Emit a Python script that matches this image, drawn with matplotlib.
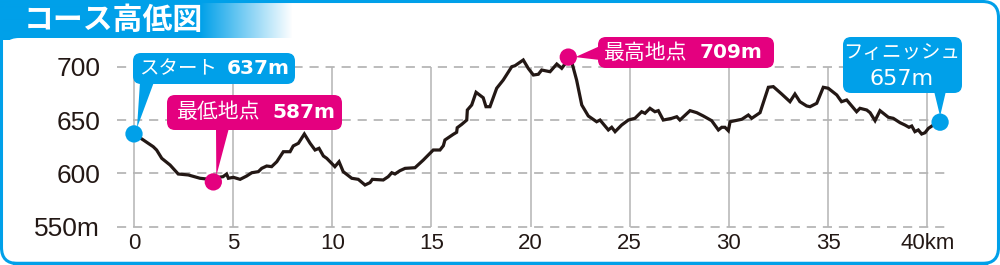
import matplotlib
matplotlib.use("Agg")
import matplotlib.pyplot as plt
import numpy as np
from matplotlib.patches import FancyBboxPatch, Polygon

# ---------------- data ----------------
km = [0.00, 0.47, 0.97, 1.14, 1.40, 1.82, 2.23, 2.74, 3.33, 3.83, 4.25, 4.49, 4.67, 4.76,
      5.01, 5.35, 5.68, 5.94, 6.27, 6.44, 6.69, 6.94, 7.20, 7.53, 7.87, 8.03, 8.29, 8.59,
      8.88, 9.13, 9.33, 9.55, 9.72, 9.97, 10.13, 10.34, 10.55, 10.98, 11.31, 11.65, 11.90,
      12.02, 12.57, 12.82, 13.00, 13.16, 13.41, 13.67, 14.17, 14.59, 15.09, 15.43, 15.60,
      15.68, 16.10, 16.27, 16.30, 16.53, 16.78, 16.81, 17.03, 17.25, 17.61, 17.75, 17.95,
      18.29, 18.62, 19.05, 19.21, 19.63, 19.88, 20.14, 20.39, 20.56, 20.98, 21.32, 21.57,
      21.82, 22.07, 22.32, 22.58, 22.91, 23.33, 23.50, 23.92, 24.09, 24.26, 24.59, 24.93,
      25.26, 25.60, 25.77, 26.02, 26.27, 26.44, 26.69, 27.12, 27.37, 27.53, 28.04, 28.38,
      28.71, 29.13, 29.47, 29.64, 29.80, 29.97, 30.06, 30.65, 30.98, 31.15, 31.57, 31.99,
      32.24, 32.66, 33.08, 33.33, 33.58, 33.92, 34.09, 34.43, 34.76, 35.01, 35.44, 35.68,
      35.94, 36.44, 36.61, 36.95, 37.12, 37.37, 37.62, 38.04, 38.29, 38.63, 38.88, 39.08,
      39.22, 39.38, 39.55, 39.72, 39.89, 40.06, 40.31, 40.65]
elev = [637.0, 631.3, 625.0, 621.9, 614.1, 607.8, 599.4, 598.5, 595.4, 594.4, 596.3, 596.9,
        599.4, 595.4, 596.3, 594.4, 597.5, 600.6, 601.6, 604.7, 606.9, 606.3, 610.9, 620.3,
        620.3, 625.7, 628.2, 636.9, 628.2, 621.9, 623.5, 616.3, 614.1, 609.4, 606.3, 610.9,
        601.6, 595.4, 594.4, 589.1, 591.3, 594.4, 593.8, 596.9, 600.6, 599.4, 602.5, 604.7,
        605.3, 612.5, 621.9, 621.9, 625.9, 631.3, 636.6, 638.5, 642.8, 646.0, 650.0, 659.4,
        664.1, 676.0, 670.9, 662.5, 662.5, 679.8, 687.5, 700.0, 700.9, 706.3, 698.5, 692.2,
        692.9, 696.9, 695.3, 702.5, 698.5, 704.7, 704.7, 687.5, 664.1, 653.8, 648.4, 650.0,
        640.7, 643.2, 639.1, 645.3, 650.0, 651.6, 657.8, 656.3, 661.0, 657.8, 658.8, 650.0,
        651.6, 653.1, 650.0, 658.8, 656.9, 653.8, 649.4, 640.7, 643.2, 643.2, 640.0, 648.4,
        650.7, 654.7, 651.6, 656.9, 680.7, 681.3, 674.4, 667.2, 674.4, 667.2, 663.2, 662.5,
        665.7, 680.7, 679.8, 673.5, 667.2, 668.8, 657.8, 661.0, 659.4, 656.9, 649.4, 658.8,
        652.6, 651.6, 647.5, 645.3, 643.2, 644.4, 639.1, 640.7, 636.9, 638.1, 642.2, 645.3,
        648.4]

x_ticks = [0, 5, 10, 15, 20, 25, 30, 35, 40]
x_tick_labels = ["0", "5", "10", "15", "20", "25", "30", "35", "40km"]
y_ticks = [550, 600, 650, 700]
y_tick_labels = ["550m", "600", "650", "700"]

marker_km = [0.0, 4.0, 21.9, 40.65]
marker_m = [637, 592, 709, 648]
callout_names = ["スタート", "最低地点", "最高地点", "フィニッシュ"]
callout_values = ["637m", "587m", "709m", "657m"]
title = "コース高低図"

# ---------------- style ----------------
BLUE = "#00a0e9"
PINK = "#e4007f"
INK = "#231815"
JP = ["Noto Sans CJK JP", "DejaVu Sans"]
NUM = ["Liberation Sans", "DejaVu Sans"]

W, H = 1000, 265
fig = plt.figure(figsize=(W / 100, H / 100), dpi=100)

# background / frame axes in pixel coordinates
bg = fig.add_axes([0, 0, 1, 1])
bg.set_xlim(0, W)
bg.set_ylim(H, 0)
bg.axis("off")
bg.set_zorder(0)

# header gradient band
grad = np.ones((1, 300, 3))
b = np.array(matplotlib.colors.to_rgb(BLUE))
for i in range(300):
    t = 0.0 if i < 200 else min(1.0, (i - 200) / 92.0)
    grad[0, i] = b * (1 - t) + np.ones(3) * t
bg.imshow(grad, extent=[0, 300, 40, 0], aspect="auto", zorder=1, interpolation="bilinear")
# outer frame
bg.add_patch(FancyBboxPatch((1.5, 1.5), W - 3, H - 3,
                            boxstyle="round,pad=0,rounding_size=16",
                            facecolor="none", edgecolor=BLUE, lw=2.2, zorder=3))
bg.plot([14, W - 14], [H - 2, H - 2], color=BLUE, lw=2.5, zorder=3)
# inner white panel
bg.add_patch(FancyBboxPatch((3, 38), W - 6, H - 41,
                            boxstyle="round,pad=0,rounding_size=16",
                            facecolor="white", edgecolor="none", zorder=2))
bg.text(24, 20, title, color="white", fontsize=21.5, fontweight="bold",
        family=JP, ha="left", va="center", zorder=4)

# ---------------- chart axes ----------------
ax_l, ax_r, ax_t, ax_b = 110, 960, 40, 232
ax = fig.add_axes([ax_l / W, (H - ax_b) / H, (ax_r - ax_l) / W, (ax_b - ax_t) / H])
ax.set_zorder(1)
ax.patch.set_alpha(0)
x0 = (ax_l - 134) / 19.83
x1 = (ax_r - 134) / 19.83
ax.set_xlim(x0, x1)
ax.set_ylim(700 - (ax_b - 66.7) * 0.9375, 700 - (ax_t - 66.7) * 0.9375)
for s in ax.spines.values():
    s.set_visible(False)

ax.hlines(y_ticks, -0.86, 40.9, colors="#aaaaaa", lw=1.1, linestyles=(0, (6, 4.5)), zorder=1)
ax.vlines(x_ticks, 550, 700, colors="#b4b4b4", lw=1.1, zorder=1)
ax.plot(km, elev, color=INK, lw=2.3, solid_joinstyle="miter", zorder=3)

ax.set_xticks(x_ticks)
ax.set_xticklabels(x_tick_labels, family=NUM, fontsize=16, color=INK)
ax.set_yticks(y_ticks)
ax.set_yticklabels(y_tick_labels, family=NUM, fontsize=19, color=INK)
ax.tick_params(axis="both", length=0)
ax.tick_params(axis="y", pad=7)
ax.tick_params(axis="x", pad=1)

colors = [BLUE, PINK, PINK, BLUE]
ax.scatter(marker_km, marker_m, s=155, c=colors, zorder=5, linewidths=0)

# ---------------- callouts (overlay in pixel coords) ----------------
top = fig.add_axes([0, 0, 1, 1])
top.set_xlim(0, W)
top.set_ylim(H, 0)
top.axis("off")
top.patch.set_alpha(0)
top.set_zorder(2)


def to_px(x, y):
    return top.transData.inverted().transform(ax.transData.transform((x, y)))


def box(x, y, w, h, col):
    top.add_patch(FancyBboxPatch((x, y), w, h, boxstyle="round,pad=0,rounding_size=8",
                                 facecolor=col, edgecolor="none", zorder=2))


# start
box(133, 53, 162, 31, BLUE)
tip = to_px(marker_km[0], marker_m[0])
top.add_patch(Polygon([(140, 82), (154, 82), (tip[0] + 3, tip[1] - 6)], closed=True,
                      facecolor=BLUE, edgecolor="none", zorder=2))
top.text(139, 69, callout_names[0], color="white", fontsize=14, family=JP, ha="left", va="center")
top.text(290, 69, callout_values[0], color="white", fontsize=14.5, fontweight="bold",
         family=["DejaVu Sans"], ha="right", va="center")

# lowest
box(167, 95, 175, 35, PINK)
tip = to_px(marker_km[1], marker_m[1])
top.add_patch(Polygon([(216, 128), (229, 128), (tip[0] + 3, tip[1] - 6)], closed=True,
                      facecolor=PINK, edgecolor="none", zorder=2))
top.text(177, 112.5, callout_names[1], color="white", fontsize=15, family=JP, ha="left", va="center")
top.text(335, 112.5, callout_values[1], color="white", fontsize=14.5, fontweight="bold",
         family=["DejaVu Sans"], ha="right", va="center")

# highest
box(598, 37, 176, 31, PINK)
tip = to_px(marker_km[2], marker_m[2])
top.add_patch(Polygon([(600, 46), (600, 60), (tip[0] + 7, tip[1])], closed=True,
                      facecolor=PINK, edgecolor="none", zorder=2))
top.text(604, 53, callout_names[2], color="white", fontsize=15, family=JP, ha="left", va="center")
top.text(700, 53, callout_values[2], color="white", fontsize=14.5, fontweight="bold",
         family=["DejaVu Sans"], ha="left", va="center")

# finish
box(843, 37, 119, 56, BLUE)
tip = to_px(marker_km[3], marker_m[3])
top.add_patch(Polygon([(934, 91), (946, 91), (tip[0], tip[1] - 6)], closed=True,
                      facecolor=BLUE, edgecolor="none", zorder=2))
top.text(902, 52, callout_names[3], color="white", fontsize=14, family=JP, ha="center", va="center")
top.text(902, 79, callout_values[3], color="white", fontsize=16, family=["DejaVu Sans"],
         ha="center", va="center")

fig.savefig("out.png", dpi=100)
